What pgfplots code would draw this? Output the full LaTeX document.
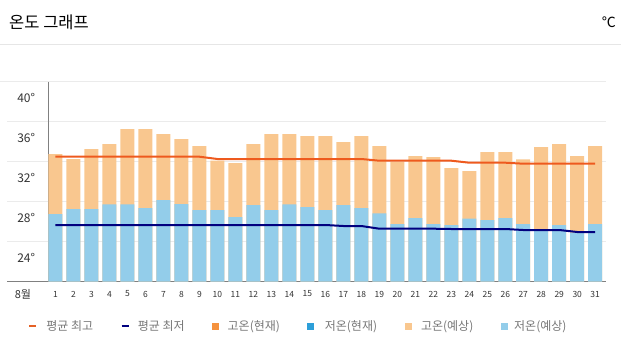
\documentclass[border=0pt]{standalone}
\usepackage{fontspec}
\setmainfont{Noto Sans CJK KR}
\usepackage{pgfplots}
\usepackage{pgfplotstable}
\pgfplotsset{compat=1.18}
\definecolor{peach}{HTML}{F9C78F}
\definecolor{lblue}{HTML}{93CDEA}
\definecolor{linered}{HTML}{EE5A1E}
\definecolor{navy}{HTML}{00007F}
\definecolor{legorange}{HTML}{F5923E}
\definecolor{legblue}{HTML}{2D9FD9}
\definecolor{gridgray}{HTML}{EBEBEB}
\definecolor{axisgray}{HTML}{808080}
\definecolor{txtgray}{HTML}{777777}
\definecolor{txtdark}{HTML}{333333}
\pgfplotstableread{
day hi lo avghi avglo
1 32.77 26.77 32.5 25.67
2 32.27 27.27 32.5 25.67
3 33.27 27.27 32.5 25.67
4 33.77 27.73 32.5 25.67
5 35.27 27.73 32.5 25.67
6 35.27 27.37 32.5 25.67
7 34.77 28.17 32.5 25.67
8 34.27 27.77 32.5 25.67
9 33.57 27.17 32.5 25.67
10 32.10 27.17 32.27 25.67
11 31.87 26.47 32.27 25.67
12 33.77 27.67 32.27 25.67
13 34.77 27.17 32.27 25.67
14 34.77 27.73 32.27 25.67
15 34.57 27.47 32.27 25.67
16 34.57 27.17 32.27 25.67
17 33.97 27.67 32.27 25.57
18 34.57 27.37 32.27 25.57
19 33.57 26.83 32.10 25.30
20 32.00 25.77 32.10 25.30
21 32.57 26.37 32.10 25.30
22 32.47 25.77 32.10 25.30
23 31.37 25.67 32.10 25.27
24 31.07 26.30 31.90 25.27
25 32.97 26.17 31.90 25.27
26 32.97 26.37 31.90 25.27
27 32.23 25.77 31.80 25.17
28 33.47 25.10 31.80 25.17
29 33.77 25.67 31.80 25.17
30 32.57 24.90 31.80 24.97
31 33.57 25.77 31.80 24.97
}\datatable
\begin{document}
\begin{tikzpicture}[x=1pt,y=1pt]
\useasboundingbox (0,0) rectangle (621,346);
\node[anchor=west, inner sep=0pt, text=black, font=\fontsize{16.5}{18}\selectfont] at (9,324) {온도 그래프};
\node[anchor=east, inner sep=0pt, text=black, font=\fontsize{14}{16}\selectfont] at (616,324) {℃};
\draw[draw=gridgray!80!gray!60, line width=1pt] (0,301.7) -- (621,301.7);
\begin{axis}[
  at={(48.3pt,64.3pt)}, anchor=south west,
  scale only axis, width=557.7pt, height=200pt,
  xmin=0.6, xmax=31.6, ymin=20, ymax=40,
  axis x line*=bottom, axis y line*=left,
  axis line style={draw=axisgray, line width=1.5pt, -},
  ytick={24,28,32,36,40},
  yticklabels={24°,28°,32°,36°,40°},
  ymajorgrids, grid style={draw=gridgray, line width=0.8pt},
  major tick length=0pt,
  ytick style={draw=none}, xtick style={draw=none},
  yticklabel style={anchor=east, inner sep=0pt, xshift=-13pt, yshift=-16pt, text=txtdark, font=\fontsize{12}{14}\selectfont},
  xtick={1,...,31},
  xticklabels={1,2,3,4,5,6,7,8,9,10,11,12,13,14,15,16,17,18,19,20,21,22,23,24,25,26,27,28,29,30,31},
  xticklabel style={anchor=center, inner sep=0pt, yshift=-12.3pt, text=txtdark, font=\fontsize{8.5}{10}\selectfont},
  clip=false,
  legend columns=6,
  legend style={at={(-0.0364,-0.2215)}, anchor=west, draw=none, fill=none, inner sep=0pt,
    nodes={inner sep=0pt, anchor=west}, text=txtgray, font=\fontsize{12}{14}\selectfont,
    /tikz/every even column/.append style={column sep=27.5pt}},
]
\addplot[ybar, bar width=14pt, bar shift=0pt, fill=peach, draw=none, forget plot] table[x=day, y=hi] {\datatable};
\addplot[ybar, bar width=14pt, bar shift=0pt, fill=lblue, draw=none, forget plot] table[x=day, y=lo] {\datatable};
\addplot[sharp plot, linered, line width=2pt, forget plot] table[x=day, y=avghi] {\datatable};
\addplot[sharp plot, navy, line width=2pt, forget plot] table[x=day, y=avglo] {\datatable};
\draw[gridgray, line width=0.8pt] (axis cs:0.6,24) -- ++(-41pt,0pt);
\draw[gridgray, line width=0.8pt] (axis cs:0.6,28) -- ++(-41pt,0pt);
\draw[gridgray, line width=0.8pt] (axis cs:0.6,32) -- ++(-41pt,0pt);
\draw[gridgray, line width=0.8pt] (axis cs:0.6,36) -- ++(-41pt,0pt);
\draw[gridgray, line width=0.8pt] (axis cs:0.6,40) -- ++(-48pt,0pt);
\draw[axisgray, line width=1.5pt] (axis cs:0.6,20) -- ++(-41pt,0pt);
\node[inner sep=0pt, text=txtdark, font=\fontsize{11}{13}\selectfont] at (axis cs:0.6,20) [xshift=-25.3pt, yshift=-12.3pt] {8월};
\addlegendimage{legend image code/.code={\draw[linered!80!brown, line width=2pt] (0pt,0pt) -- (7pt,0pt); \path (17pt,0pt);}}
\addlegendentry{평균 최고}
\addlegendimage{legend image code/.code={\draw[navy, line width=2pt] (0pt,0pt) -- (7pt,0pt); \path (16pt,0pt);}}
\addlegendentry{평균 최저}
\addlegendimage{legend image code/.code={\fill[legorange] (0pt,-3pt) rectangle (6pt,3pt); \path (15pt,0pt);}}
\addlegendentry{고온(현재)}
\addlegendimage{legend image code/.code={\fill[legblue] (0pt,-3pt) rectangle (6pt,3pt); \path (17pt,0pt);}}
\addlegendentry{저온(현재)}
\addlegendimage{legend image code/.code={\fill[peach] (0pt,-3pt) rectangle (6pt,3pt); \path (16pt,0pt);}}
\addlegendentry{고온(예상)}
\addlegendimage{legend image code/.code={\fill[lblue] (0pt,-3pt) rectangle (6pt,3pt); \path (13pt,0pt);}}
\addlegendentry{저온(예상)}
\end{axis}
\end{tikzpicture}
\end{document}
